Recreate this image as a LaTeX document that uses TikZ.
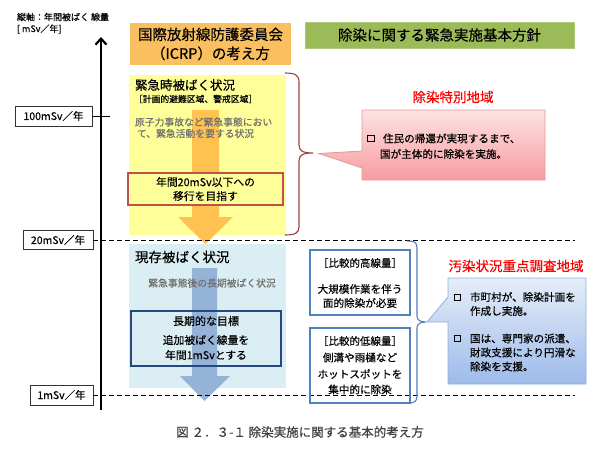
\documentclass[tikz,border=0pt]{standalone}
\usepackage{fontspec}
\setmainfont{Noto Sans CJK JP}[FakeBold=0.35]
\usetikzlibrary{arrows.meta}
\definecolor{orangeT}{HTML}{FAC060}
\definecolor{greenT}{HTML}{9BBB59}
\definecolor{yel}{HTML}{FFFF99}
\definecolor{orArrow}{HTML}{FFC250}
\definecolor{lblue}{HTML}{DAEEF3}
\definecolor{bArrow}{HTML}{95B3D7}
\definecolor{navy}{HTML}{24487F}
\definecolor{bblue}{HTML}{4F81BD}
\definecolor{redb}{HTML}{C0504D}
\definecolor{braceR}{HTML}{A0403F}
\definecolor{grayT}{HTML}{707070}
\definecolor{pinkTop}{HTML}{FDE2E2}
\definecolor{pinkBot}{HTML}{F89CA0}
\definecolor{pinkLine}{HTML}{E39A9A}
\definecolor{blueTop}{HTML}{E6EDF9}
\definecolor{blueBot}{HTML}{9DBBEA}
\definecolor{blueLine}{HTML}{8EB0DC}
\tikzset{
  fs/.style={font=\fontsize{#1}{#1}\selectfont},
  panel/.style={inner sep=0pt, outer sep=0pt},
  txt/.style={inner sep=0pt, outer sep=0pt},
  tickbox/.style={draw=black!80, line width=0.6pt, fill=white, inner sep=0pt, fs=10.5},
  levelline/.style={dashed, dash pattern=on 5pt off 3pt, line width=0.9pt},
  bluebox/.style={draw=bblue, line width=1.5pt, inner sep=0pt},
  bul/.style={draw=black, line width=1.3pt, minimum size=6.5pt, inner sep=0pt},
}
\begin{document}
\begin{tikzpicture}[x=1pt,y=-1pt]
\useasboundingbox (0,0) rectangle (599,448);
\fill[white] (0,0) rectangle (599,448);

% axis label
\node[txt, anchor=west, fs=9] (axl1) at (17,17) {縦軸：年間被ばく 線量};
\node[txt, anchor=west, fs=9] (axl2) at (17,29) {[ mSv／年]};

% panels
\node[panel, fill=orangeT, minimum width=161, minimum height=42, align=center,
      font=\fontsize{14.5}{19}\selectfont] (icrp) at (210.5,44) {国際放射線防護委員会\\（ICRP）の考え方};
\node[panel, fill=greenT, draw=greenT!80!white, minimum width=269, minimum height=26, fs=14.5] (policy) at (439.5,35) {除染に関する緊急実施基本方針};

\node[panel, fill=yel, minimum width=157, minimum height=160] (emerg) at (207.5,155) {};
\node[panel, fill=lblue, minimum width=157, minimum height=144] (exist) at (207.5,316) {};

% orange arrow
\fill[orArrow] (192,110) -- (219,110) -- (219,217) -- (233,217) -- (205.5,244) -- (178,217) -- (192,217) -- cycle;
% blue arrow
\fill[bArrow] (192,268) -- (217,268) -- (217,376) -- (230,376) -- (204.5,401) -- (180,376) -- (192,376) -- cycle;

% emergency texts
\node[txt, anchor=west, fs=12.5] (e1) at (135,85) {緊急時被ばく状況};
\node[txt, anchor=west, fs=8.8] (e2) at (134,99) {［計画的避難区域、警戒区域］};
\node[txt, anchor=west, fs=9.8, text=grayT] (e3) at (135,122) {原子力事故など緊急事態におい};
\node[txt, anchor=west, fs=9.8, text=grayT] (e4) at (137,133.5) {て、緊急活動を要する状況};
\node[panel, fill=yel, draw=redb, line width=1.2pt, minimum width=155, minimum height=32, align=center,
      font=\fontsize{10.8}{14}\selectfont] (goal20) at (205.5,189) {年間20mSv以下への\\移行を目指す};

% existing texts
\node[txt, anchor=west, fs=13.5] (x1) at (135,257) {現存被ばく状況};
\node[txt, fs=9.8, text=grayT] (x2) at (212,283) {緊急事態後の長期被ばく状況};
\node[panel, draw=navy, line width=1.5pt, minimum width=150, minimum height=55] (goal1) at (206,338.5) {};
\node[txt, fs=11] (g1) at (206,321) {長期的な目標};
\node[txt, fs=10.8] (g2) at (206,340) {追加被ばく線量を};
\node[txt, fs=10.8] (g3) at (206,355) {年間1mSvとする};

% axis
\coordinate (axbot) at (101,410);
\coordinate (axtop) at (101,37);
\draw[line width=2.2pt, -{Straight Barb[length=6pt,width=11pt]}] (axbot) -- (axtop);

% levels
\node[tickbox, minimum width=77, minimum height=20] (b100) at (53.5,116) {100mSv／年};
\node[tickbox, minimum width=70, minimum height=19] (b20) at (58,240) {20mSv／年};
\node[tickbox, minimum width=63, minimum height=20] (b1) at (61.5,395) {1mSv／年};
\coordinate (t100) at (110,116);
\coordinate (e20) at (575,240);
\coordinate (e1m) at (575,395);
\draw[line width=0.8pt] (b100.east) -- (t100);
\draw[levelline] (b20.east) -- (e20);
\draw[levelline] (b1.east) -- (e1m);

% brace 1 (dark red)
\draw[braceR, line width=1.1pt] (285,73) .. controls (295,73) and (299,75) .. (299,82) -- (299,145)
  .. controls (299,151) and (303,153) .. (313,153)
  .. controls (303,153) and (299,155) .. (299,161) -- (299,227)
  .. controls (299,233) and (295,235) .. (285,235);

% pink callout
\path[top color=pinkTop, bottom color=pinkBot, draw=pinkLine, line width=0.8pt]
  (362,110) -- (545,110) -- (545,180) -- (362,180) -- (362,168) -- (319,153.5) -- (362,151) -- cycle;
\node[txt, fs=13.5, text=red] (t1) at (453,97) {除染特別地域};
\node[bul] (pb1) at (371,138.5) {};
\node[txt, anchor=west, fs=10.6] (p1) at (383,138.5) {住民の帰還が実現するまで、};
\node[txt, anchor=west, fs=10.6] (p2) at (380,154) {国が主体的に除染を実施。};

% right blue boxes
\node[bluebox, minimum width=100, minimum height=65] (hi) at (360,282.5) {};
\node[txt, fs=10.5] (hi1) at (360,263) {［比較的高線量］};
\node[txt, fs=10.6] (hi2) at (360,289) {大規模作業を伴う};
\node[txt, fs=10.6] (hi3) at (360,303) {面的除染が必要};
\node[bluebox, minimum width=100, minimum height=75] (lo) at (360,365.5) {};
\node[txt, fs=10.5] (lo1) at (360,341) {［比較的低線量］};
\node[txt, fs=10.6] (lo2) at (360,357.5) {側溝や雨樋など};
\node[txt, fs=10.6] (lo3) at (360,374) {ホットスポットを};
\node[txt, fs=10.6] (lo4) at (360,389.5) {集中的に除染};

% brace 2 (blue)
\draw[bblue, line width=1.1pt] (407,241) .. controls (414,241) and (417,242) .. (417,248) -- (417,316)
  .. controls (417,320) and (420,322) .. (426,322)
  .. controls (420,322) and (417,324) .. (417,328) -- (417,396)
  .. controls (417,402) and (414,403) .. (407,403);

% blue callout
\path[top color=blueTop, bottom color=blueBot, draw=blueLine, line width=0.8pt]
  (448,278) -- (586,278) -- (586,384) -- (448,384) -- (448,322) -- (427,322) -- (448,297) -- cycle;
\node[txt, fs=13.5, text=red] (t2) at (516,266) {汚染状況重点調査地域};
\node[bul] (qb1) at (457.5,297.5) {};
\node[txt, anchor=west, fs=10.6] (q1) at (470,297) {市町村が、除染計画を};
\node[txt, anchor=west, fs=10.6] (q2) at (470,311) {作成し実施。};
\node[bul] (qb2) at (457.5,338.5) {};
\node[txt, anchor=west, fs=10.6] (q3) at (470,338.5) {国は、専門家の派遣、};
\node[txt, anchor=west, fs=10.6] (q4) at (470,352.5) {財政支援により円滑な};
\node[txt, anchor=west, fs=10.6] (q5) at (470,366.5) {除染を支援。};

% caption
\node[txt, fs=12.5, text=black!75] (cap) at (300,432) {図 ２．３-１ 除染実施に関する基本的考え方};
\end{tikzpicture}
\end{document}
